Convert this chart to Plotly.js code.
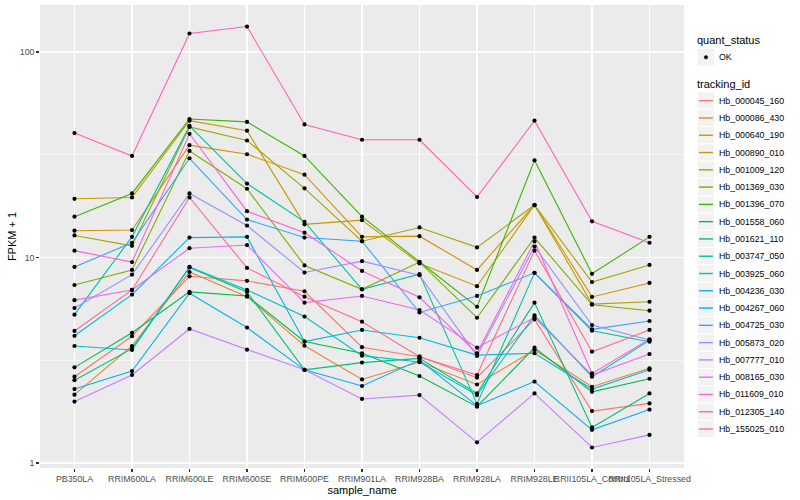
<!DOCTYPE html>
<html><head><meta charset="utf-8">
<script src="https://cdn.plot.ly/plotly-3.0.1.min.js"></script>
<style>html,body{margin:0;padding:0;background:#fff}#chart{width:800px;height:500px}</style>
</head><body><div id="chart"></div>
<script>
const samples = ["PB350LA","RRIM600LA","RRIM600LE","RRIM600SE","RRIM600PE","RRIM901LA","RRIM928BA","RRIM928LA","RRIM928LE","RRII105LA_Control","RRII105LA_Stressed"];
const trackingIds = ["Hb_000045_160","Hb_000086_430","Hb_000640_190","Hb_000890_010","Hb_001009_120","Hb_001369_030","Hb_001396_070","Hb_001558_060","Hb_001621_110","Hb_003747_050","Hb_003925_060","Hb_004236_030","Hb_004267_060","Hb_004725_030","Hb_005873_020","Hb_007777_010","Hb_008165_030","Hb_011609_010","Hb_012305_140","Hb_155025_010"];
const colors = ["#F8766D","#EA8331","#D89000","#C09B00","#A3A500","#7CAE00","#39B600","#00BB4E","#00BF7D","#00C1A3","#00BFC4","#00BAE0","#00B0F6","#35A2FF","#9590FF","#C77CFF","#E76BF3","#FA62DB","#FF62BC","#FF6C91"];
const yTickVals = [1, 10, 100];
const yTickText = ["1", "10", "100"];
const quantStatus = ["OK"];

// FPKM + 1 per sample (same order as samples)
const hb_000045_160 = [2.63, 4.14, 8.1, 7.7, 6.85, 3.66, 3.29, 2.6, 5.0, 1.79, 1.95];
const hb_000086_430 = [2.15, 3.71, 8.5, 6.45, 3.72, 2.55, 3.1, 2.41, 3.55, 2.35, 2.89];
const hb_000640_190 = [13.5, 13.6, 35.2, 31.8, 25.3, 12.6, 12.7, 8.7, 18.0, 6.43, 7.52];
const hb_000890_010 = [19.3, 19.6, 46.3, 41.4, 14.5, 15.2, 9.36, 7.25, 18.0, 5.93, 6.09];
const hb_001009_120 = [12.8, 11.4, 43.2, 37.1, 21.7, 12.0, 14.0, 11.2, 18.0, 7.59, 9.2];
const hb_001369_030 = [7.35, 8.7, 33.0, 21.6, 9.15, 7.0, 9.5, 5.09, 12.5, 5.89, 5.51];
const hb_001396_070 = [15.8, 20.5, 47.2, 45.7, 31.2, 15.8, 9.53, 5.76, 29.7, 8.33, 12.6];
const hb_001558_060 = [2.92, 4.3, 6.8, 6.5, 3.9, 3.42, 2.65, 1.88, 3.64, 2.22, 2.57];
const hb_001621_110 = [2.53, 3.6, 8.95, 6.8, 2.84, 3.08, 3.23, 2.18, 6.03, 1.49, 2.18];
const hb_003747_050 = [5.27, 12.6, 43.7, 22.9, 14.9, 7.0, 8.3, 1.94, 8.42, 4.4, 3.89];
const hb_003925_060 = [3.71, 3.55, 9.0, 6.95, 5.16, 3.33, 3.1, 2.14, 5.23, 2.63, 3.95];
const hb_004236_030 = [4.16, 6.6, 12.5, 12.6, 3.9, 4.44, 4.07, 3.35, 3.42, 2.29, 2.84];
const hb_004267_060 = [2.29, 2.8, 6.7, 4.56, 2.84, 2.37, 3.17, 1.9, 2.49, 1.45, 1.82];
const hb_004725_030 = [9.0, 11.8, 30.4, 15.3, 12.5, 12.0, 5.4, 6.5, 8.42, 4.47, 4.91];
const hb_005873_020 = [5.68, 8.25, 20.5, 14.3, 8.45, 9.6, 8.2, 3.32, 11.3, 4.69, 3.97];
const hb_007777_010 = [1.99, 2.68, 4.49, 3.56, 2.84, 2.05, 2.14, 1.26, 2.18, 1.19, 1.37];
const hb_008165_030 = [6.2, 6.95, 11.1, 11.5, 6.03, 6.5, 5.55, 3.64, 5.1, 2.68, 3.39];
const hb_011609_010 = [10.8, 9.5, 40.0, 16.8, 13.2, 8.6, 6.4, 3.42, 12.0, 2.73, 4.0];
const hb_012305_140 = [40.3, 31.2, 123, 133, 44.4, 37.4, 37.4, 19.7, 46.3, 15.0, 11.8];
const hb_155025_010 = [4.39, 6.95, 19.6, 8.9, 6.45, 4.87, 3.29, 2.68, 10.8, 3.48, 4.44];

const seriesValues = [hb_000045_160, hb_000086_430, hb_000640_190, hb_000890_010, hb_001009_120, hb_001369_030, hb_001396_070, hb_001558_060, hb_001621_110, hb_003747_050, hb_003925_060, hb_004236_030, hb_004267_060, hb_004725_030, hb_005873_020, hb_007777_010, hb_008165_030, hb_011609_010, hb_012305_140, hb_155025_010];

const FONT = "Liberation Sans, Arial, Helvetica, sans-serif";
const W = 800, H = 500;
const M = {l: 40, r: 116, t: 5, b: 32};
const PW = W - M.l - M.r, PH = H - M.t - M.b;
const px = v => (v - M.l) / PW;
const py = v => (H - M.b - v) / PH;

const traces = seriesValues.map((vals, i) => ({
  type: "scatter", mode: "lines", name: trackingIds[i],
  x: samples, y: vals,
  line: {color: colors[i], width: 1.1},
  showlegend: false, hoverinfo: "x+y+name"
}));
const allX = [], allY = [];
seriesValues.forEach(vals => vals.forEach((v, j) => { allX.push(samples[j]); allY.push(v); }));
traces.push({
  type: "scatter", mode: "markers", name: quantStatus[0],
  x: allX, y: allY,
  marker: {color: "#000000", size: 4.2, symbol: "circle"},
  showlegend: false
});

// ggplot-style legend drawn in layout space
const shapes = [], annotations = [];
const keyX0 = 697.3, keyW = 17.3, rowH = 17.28;
annotations.push({xref: "paper", yref: "paper", x: px(695), y: py(40), text: "quant_status",
  showarrow: false, xanchor: "left", yanchor: "middle", font: {family: FONT, size: 11, color: "#000"}});
shapes.push({type: "rect", xref: "paper", yref: "paper", x0: px(keyX0), x1: px(keyX0 + keyW),
  y0: py(48.6 + keyW), y1: py(48.6), fillcolor: "#F2F2F2", line: {color: "#FFFFFF", width: 1}});
shapes.push({type: "circle", xref: "paper", yref: "paper", x0: px(704.2), x1: px(707.7),
  y0: py(59.0), y1: py(55.5), fillcolor: "#000", line: {color: "#000", width: 0.5}});
annotations.push({xref: "paper", yref: "paper", x: px(717), y: py(57.2), text: quantStatus[0],
  showarrow: false, xanchor: "left", yanchor: "middle", font: {family: FONT, size: 8.8, color: "#000"}});
annotations.push({xref: "paper", yref: "paper", x: px(695), y: py(84.3), text: "tracking_id",
  showarrow: false, xanchor: "left", yanchor: "middle", font: {family: FONT, size: 11, color: "#000"}});
trackingIds.forEach((id, i) => {
  const cy = 100.7 + rowH * i;
  shapes.push({type: "rect", xref: "paper", yref: "paper", x0: px(keyX0), x1: px(keyX0 + keyW),
    y0: py(cy + rowH / 2), y1: py(cy - rowH / 2), fillcolor: "#F2F2F2", line: {color: "#FFFFFF", width: 1}});
  shapes.push({type: "line", xref: "paper", yref: "paper", x0: px(keyX0 + 1.7), x1: px(keyX0 + keyW - 1.7),
    y0: py(cy), y1: py(cy), line: {color: colors[i], width: 1.4}});
  annotations.push({xref: "paper", yref: "paper", x: px(717), y: py(cy), text: id,
    showarrow: false, xanchor: "left", yanchor: "middle", font: {family: FONT, size: 8.8, color: "#000"}});
});

const layout = {
  width: W, height: H, margin: M,
  paper_bgcolor: "#FFFFFF", plot_bgcolor: "#EBEBEB",
  font: {family: FONT, size: 8.8, color: "#4D4D4D"},
  showlegend: false,
  xaxis: {
    type: "category", categoryorder: "array", categoryarray: samples,
    range: [-0.6, samples.length - 1 + 0.6],
    showgrid: true, gridcolor: "#FFFFFF", gridwidth: 1.07, zeroline: false, showline: false,
    ticks: "outside", ticklen: 2.75, tickwidth: 1.07, tickcolor: "#333333",
    tickfont: {family: FONT, size: 8.8, color: "#4D4D4D"}, tickangle: 0,
    automargin: false,
    title: {text: "sample_name", font: {family: FONT, size: 11, color: "#000"}, standoff: 2}
  },
  yaxis: {
    type: "log", range: [Math.log10(1) - 5 / 205.5, 2 + 47 / 205.5],
    tickmode: "array", tickvals: yTickVals, ticktext: yTickText,
    showgrid: true, gridcolor: "#FFFFFF", gridwidth: 1.07, zeroline: false, showline: false,
    ticks: "outside", ticklen: 2.75, tickwidth: 1.07, tickcolor: "#333333",
    tickfont: {family: FONT, size: 8.8, color: "#4D4D4D"},
    minor: {tickmode: "array", tickvals: [Math.sqrt(10), Math.sqrt(1000)], showgrid: true,
            gridcolor: "#FFFFFF", gridwidth: 0.53, ticks: ""},
    automargin: false,
    title: {text: "FPKM + 1", font: {family: FONT, size: 11, color: "#000"}, standoff: 0}
  },
  shapes: shapes, annotations: annotations
};

Plotly.newPlot("chart", traces, layout, {displayModeBar: false, staticPlot: true});
</script>
</body></html>
